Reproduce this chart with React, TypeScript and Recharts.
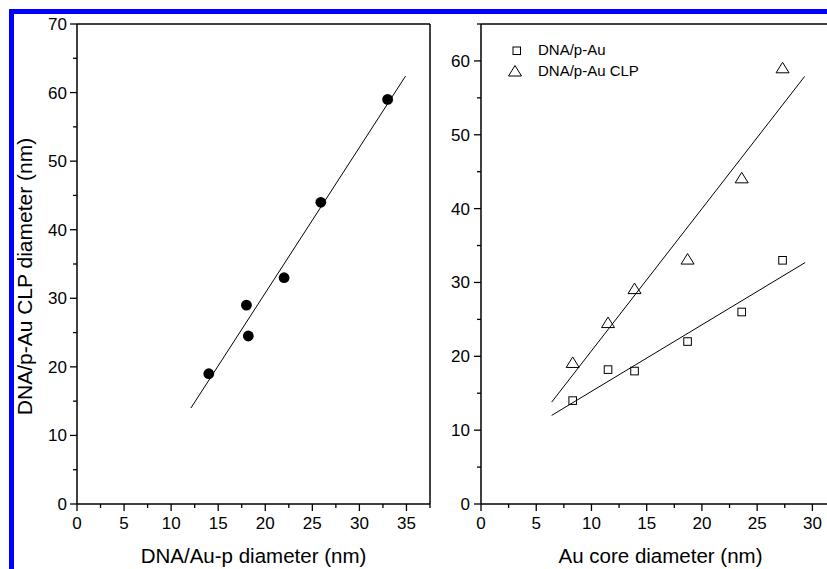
import * as React from 'react';
import { ScatterChart, Scatter, XAxis, YAxis, ReferenceLine, Legend } from 'recharts';

// left panel: DNA/Au-p vs DNA/p-Au CLP diameter
const leftPoints = [
    { x: 14, y: 19 },
    { x: 18, y: 29 },
    { x: 18.2, y: 24.5 },
    { x: 22, y: 33 },
    { x: 25.9, y: 44 },
    { x: 33, y: 59 },
];
const leftFit = [
    { x: 12.1, y: 14 },
    { x: 34.9, y: 62.4 },
];

// right panel: Au core diameter
const squarePoints = [
    { x: 8.3, y: 14 },
    { x: 11.5, y: 18.2 },
    { x: 13.9, y: 18 },
    { x: 18.7, y: 22 },
    { x: 23.6, y: 26 },
    { x: 27.3, y: 33 },
];
const trianglePoints = [
    { x: 8.3, y: 19.1 },
    { x: 11.5, y: 24.5 },
    { x: 13.9, y: 29.1 },
    { x: 18.7, y: 33.1 },
    { x: 23.6, y: 44.1 },
    { x: 27.3, y: 59 },
];
const squareFit = [
    { x: 6.4, y: 12 },
    { x: 29.35, y: 32.7 },
];
const triangleFit = [
    { x: 6.4, y: 13.8 },
    { x: 29.3, y: 57.9 },
];

const seriesNames = ['DNA/p-Au', 'DNA/p-Au CLP'];

const leftXTicks = [0, 2.5, 5, 7.5, 10, 12.5, 15, 17.5, 20, 22.5, 25, 27.5, 30, 32.5, 35, 37.5];
const leftYTicks = [0, 5, 10, 15, 20, 25, 30, 35, 40, 45, 50, 55, 60, 65, 70];
const rightXTicks = [0, 2.5, 5, 7.5, 10, 12.5, 15, 17.5, 20, 22.5, 25, 27.5, 30, 32.5];
const rightYTicks = [0, 5, 10, 15, 20, 25, 30, 35, 40, 45, 50, 55, 60, 65];

const FONT = '"Liberation Sans", Arial, sans-serif';

const isMajor = (v: number, step: number) => Math.abs(v / step - Math.round(v / step)) < 1e-6;

const XTick = (props: any) => {
    const { x, y, payload, step } = props;
    const major = isMajor(payload.value, step);
    return (
        <g>
            <line x1={x} x2={x} y1={y} y2={y + (major ? 7 : 4)} stroke="#000" strokeWidth={1.3} />
            {major && (
                <text x={x} y={y + 25} textAnchor="middle" fontSize={17} fontFamily={FONT} fill="#000">
                    {payload.value}
                </text>
            )}
        </g>
    );
};

const YTick = (props: any) => {
    const { x, y, payload, step, gap } = props;
    const major = isMajor(payload.value, step);
    return (
        <g>
            <line x1={x} x2={x - (major ? 7 : 4)} y1={y} y2={y} stroke="#000" strokeWidth={1.3} />
            {major && (
                <text x={x - gap} y={y + 6} textAnchor="end" fontSize={17} fontFamily={FONT} fill="#000">
                    {payload.value}
                </text>
            )}
        </g>
    );
};

const Dot = (p: any) => <circle cx={p.cx} cy={p.cy} r={5.4} fill="#000" />;
const Square = (p: any) => (
    <rect x={p.cx - 3.8} y={p.cy - 3.8} width={7.6} height={7.6} fill="none" stroke="#000" strokeWidth={1} />
);
const Triangle = (p: any) => (
    <polygon
        points={`${p.cx},${p.cy - 6} ${p.cx - 6.5},${p.cy + 4.5} ${p.cx + 6.5},${p.cy + 4.5}`}
        fill="none"
        stroke="#000"
        strokeWidth={1}
    />
);
const NoMarker = () => <g />;

const LegendBox = () => (
    <svg width={170} height={50} style={{ display: 'block' }}>
        <rect x={13} y={12} width={7.5} height={7.5} fill="none" stroke="#000" strokeWidth={1} />
        <text x={38} y={20} fontSize={15} fontFamily={FONT} fill="#000">{seriesNames[0]}</text>
        <polygon points="15,30.5 8.5,41 21.5,41" fill="none" stroke="#000" strokeWidth={1} />
        <text x={38} y={40.5} fontSize={15} fontFamily={FONT} fill="#000">{seriesNames[1]}</text>
    </svg>
);

const App: React.FC = () => {
    return (
        <div style={{ position: 'absolute', left: 0, top: 0, width: 827, height: 569, overflow: 'hidden', background: '#fff', fontFamily: FONT }}>
            <div style={{ position: 'absolute', left: 9, top: 9, width: 900, height: 700, borderTop: '5px solid #0000ff', borderLeft: '5px solid #0000ff' }} />

            <div style={{ position: 'absolute', left: 0, top: 0 }}>
                <ScatterChart width={440} height={569} margin={{ top: 24, left: 76, right: 10, bottom: 64 }}>
                    <XAxis
                        type="number"
                        dataKey="x"
                        domain={[0, 37.5]}
                        ticks={leftXTicks}
                        height={1}
                        tickSize={0}
                        tickMargin={0}
                        stroke="#000"
                        strokeWidth={1.5}
                        tickLine={false}
                        tick={(p: any) => <XTick {...p} step={5} />}
                        interval={0}
                        label={{ value: 'DNA/Au-p diameter (nm)', position: 'bottom', offset: 43, fontSize: 20.5, fill: '#000', fontFamily: FONT }}
                    />
                    <YAxis
                        type="number"
                        dataKey="y"
                        domain={[0, 70]}
                        ticks={leftYTicks}
                        width={1}
                        tickSize={0}
                        tickMargin={0}
                        stroke="#000"
                        strokeWidth={1.5}
                        tickLine={false}
                        tick={(p: any) => <YTick {...p} step={10} gap={10} />}
                        interval={0}
                        label={{
                            content: () => (
                                <text
                                    x={31.5}
                                    y={276.5}
                                    transform="rotate(-90, 31.5, 276.5)"
                                    textAnchor="middle"
                                    fontSize={21}
                                    fontFamily={FONT}
                                    fill="#000"
                                >
                                    DNA/p-Au CLP diameter (nm)
                                </text>
                            ),
                        }}
                    />
                    <ReferenceLine y={70} stroke="#000" strokeWidth={1.5} />
                    <ReferenceLine x={37.5} stroke="#000" strokeWidth={1.5} />
                    <Scatter data={leftFit} line={{ stroke: '#000', strokeWidth: 1 }} shape={NoMarker} isAnimationActive={false} />
                    <Scatter data={leftPoints} shape={Dot} isAnimationActive={false} />
                </ScatterChart>
            </div>

            <div style={{ position: 'absolute', left: 410, top: 0 }}>
                <ScatterChart width={430} height={569} margin={{ top: 24, left: 70, right: 0, bottom: 64 }}>
                    <XAxis
                        type="number"
                        dataKey="x"
                        domain={[0, 32.5]}
                        ticks={rightXTicks}
                        height={1}
                        tickSize={0}
                        tickMargin={0}
                        stroke="#000"
                        strokeWidth={1.5}
                        tickLine={false}
                        tick={(p: any) => <XTick {...p} step={5} />}
                        interval={0}
                        label={{ value: 'Au core diameter (nm)', position: 'bottom', offset: 43, fontSize: 20.5, fill: '#000', fontFamily: FONT }}
                    />
                    <YAxis
                        type="number"
                        dataKey="y"
                        domain={[0, 65]}
                        ticks={rightYTicks}
                        width={1}
                        tickSize={0}
                        tickMargin={0}
                        stroke="#000"
                        strokeWidth={1.5}
                        tickLine={false}
                        tick={(p: any) => <YTick {...p} step={10} gap={11} />}
                        interval={0}
                    />
                    <ReferenceLine y={65} stroke="#000" strokeWidth={1.5} />
                    <Legend
                        layout="vertical"
                        align="center"
                        verticalAlign="middle"
                        wrapperStyle={{ left: 90, top: 35, width: 170, height: 50 }}
                        content={() => <LegendBox />}
                    />
                    <Scatter name="fit1" data={squareFit} line={{ stroke: '#000', strokeWidth: 1 }} shape={NoMarker} legendType="none" isAnimationActive={false} />
                    <Scatter name="fit2" data={triangleFit} line={{ stroke: '#000', strokeWidth: 1 }} shape={NoMarker} legendType="none" isAnimationActive={false} />
                    <Scatter name={seriesNames[0]} data={squarePoints} shape={Square} isAnimationActive={false} />
                    <Scatter name={seriesNames[1]} data={trianglePoints} shape={Triangle} isAnimationActive={false} />
                </ScatterChart>
            </div>
        </div>
    );
};

export default App;
